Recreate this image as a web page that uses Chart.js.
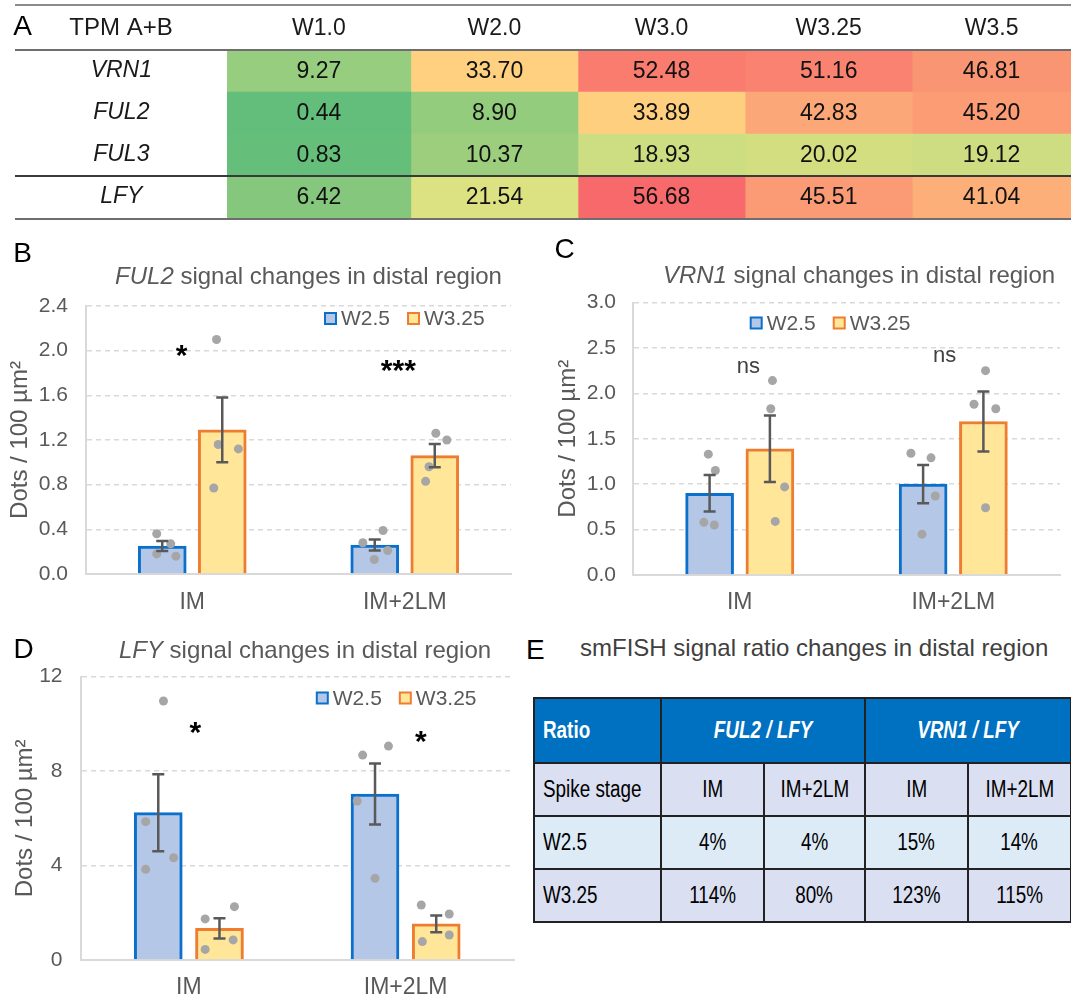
<!DOCTYPE html>
<html>
<head>
<meta charset="utf-8">
<script src="https://cdn.jsdelivr.net/npm/chart.js@4.4.1/dist/chart.umd.min.js"></script>
<style>
  body { margin: 0; background: #fff; }
  #fig { position: relative; width: 1071px; height: 1001px; overflow: hidden; font-family: "Liberation Sans", Arial, sans-serif; }
  canvas { position: absolute; }
  #cA { left: 0; top: 0; }
  #cB { left: 0; top: 220px; }
  #cC { left: 530px; top: 220px; }
  #cD { left: 0; top: 620px; }
  .lbl { position: absolute; white-space: nowrap; }
  #eLetter { left: 526px; top: 636px; font-size: 28px; line-height: 28px; color: #000; }
  #eTitle { left: 580px; top: 636px; font-size: 24px; line-height: 24px; color: #404040; }
  #tE { position: absolute; left: 533px; top: 697px; border-collapse: collapse; table-layout: fixed; width: 537px;
        font-family: "Liberation Sans", Arial, sans-serif; font-size: 23px; color: #000; }
  #tE td { border: 2px solid #222; text-align: center; padding: 0; white-space: nowrap; overflow: visible; }
  #tE td span { display: inline-block; transform: scaleX(0.82); }
  #tE td.first { text-align: left; padding-left: 8px; }
  #tE td.first span { transform-origin: left center; }
  #tE tr.hd td { background: #0070C0; color: #fff; font-weight: bold; height: 63px; }
  #tE tr.sub td { background: #DADFF1; height: 51px; }
  #tE tr.r1 td { background: #DDEBF7; height: 51px; }
  #tE tr.r2 td { background: #DADFF1; height: 51px; }
</style>
</head>
<body>
<div id="fig">
  <canvas id="cA" width="1071" height="222"></canvas>
  <canvas id="cB" width="530" height="400"></canvas>
  <canvas id="cC" width="541" height="400"></canvas>
  <canvas id="cD" width="520" height="381"></canvas>
  <div class="lbl" id="eLetter">E</div>
  <div class="lbl" id="eTitle">smFISH signal ratio changes in distal region</div>
  <table id="tE"></table>
</div>
<script>
// ---- A: TPM heat table ----
const stagesA = ['W1.0', 'W2.0', 'W3.0', 'W3.25', 'W3.5'];
const genesA = ['VRN1', 'FUL2', 'FUL3', 'LFY'];
const tpmVRN1 = [9.27, 33.70, 52.48, 51.16, 46.81];
const tpmFUL2 = [0.44, 8.90, 33.89, 42.83, 45.20];
const tpmFUL3 = [0.83, 10.37, 18.93, 20.02, 19.12];
const tpmLFY  = [6.42, 21.54, 56.68, 45.51, 41.04];

// ---- B, C, D: smFISH dots ----
const stageCats = ['IM', 'IM+2LM'];
const seriesNames = ['W2.5', 'W3.25'];

const ful2W25 = [0.25, 0.26];
const ful2W325 = [1.29, 1.06];
const ful2W25Se = [0.045, 0.05];
const ful2W325Se = [0.29, 0.105];
const ful2W25Pts = [[0.36, 0.27, 0.18, 0.16], [0.28, 0.39, 0.21, 0.13]];
const ful2W325Pts = [[2.10, 1.16, 1.12, 0.77], [1.26, 1.20, 0.96, 0.83]];
const ful2Sig = ['*', '***'];
const ful2SigY = [2.0, 1.86];

const vrn1W25 = [0.90, 1.00];
const vrn1W325 = [1.39, 1.69];
const vrn1W25Se = [0.20, 0.21];
const vrn1W325Se = [0.365, 0.33];
const vrn1W25Pts = [[1.33, 1.15, 0.58, 0.55], [1.34, 1.29, 0.87, 0.45]];
const vrn1W325Pts = [[2.14, 1.83, 0.97, 0.59], [2.25, 1.88, 1.83, 0.74]];
const vrn1Sig = ['ns', 'ns'];
const vrn1SigY = [2.29, 2.41];

const lfyW25 = [6.24, 7.03];
const lfyW325 = [1.34, 1.53];
const lfyW25Se = [1.63, 1.29];
const lfyW325Se = [0.43, 0.355];
const lfyW25Pts = [[10.97, 5.86, 4.33, 3.84], [9.06, 8.68, 6.73, 3.46]];
const lfyW325Pts = [[2.26, 1.74, 0.85, 0.45], [2.33, 1.95, 1.06, 0.78]];
const lfySig = ['*', '*'];
const lfySigY = [9.81, 9.46];

// horizontal scatter of the dots inside each bar (fraction of a category)
const ful2W25Jit = [[-0.026, 0.040, -0.026, 0.064], [-0.056, 0.039, 0.061, -0.002]];
const ful2W325Jit = [[-0.027, -0.019, 0.076, -0.040], [0.005, 0.057, -0.027, -0.043]];
const vrn1W25Jit = [[-0.006, 0.027, -0.027, 0.022], [-0.057, 0.037, 0.057, -0.005]];
const vrn1W325Jit = [[0.012, 0.004, 0.069, 0.025], [0.010, -0.044, 0.058, 0.010]];
const lfyW25Jit = [[0.024, -0.058, 0.071, -0.058], [0.062, -0.057, -0.082, 0]];
const lfyW325Jit = [[0.069, -0.066, 0.063, -0.066], [-0.069, 0.060, 0.060, -0.064]];

// ---- E: ratio table ----
const ratioGroups = ['FUL2 / LFY', 'VRN1 / LFY'];
const ratioRows = ['W2.5', 'W3.25'];
const ful2LfyW25 = [4, 4];
const ful2LfyW325 = [114, 80];
const vrn1LfyW25 = [15, 14];
const vrn1LfyW325 = [123, 115];

const FONT = '"Liberation Sans", Arial, sans-serif';
Chart.defaults.font.family = FONT;
Chart.defaults.animation = false;

// Excel style 3-colour scale (green - yellow - red)
const tpmRows = [tpmVRN1, tpmFUL2, tpmFUL3, tpmLFY];
const allTpm = tpmRows.flat().sort((a, b) => a - b);
const pIdx = (allTpm.length - 1) * 0.5;
const tLo = allTpm[0], tHi = allTpm[allTpm.length - 1];
const tMid = allTpm[Math.floor(pIdx)] + (allTpm[Math.ceil(pIdx)] - allTpm[Math.floor(pIdx)]) * (pIdx - Math.floor(pIdx));

function heatColor(v) {
    const g = [99, 190, 123], y = [255, 235, 132], r = [248, 105, 107];
    let a, b, t;
    if (v <= tMid) { a = g; b = y; t = (v - tLo) / (tMid - tLo); }
    else { a = y; b = r; t = (v - tMid) / (tHi - tMid); }
    const c = a.map((ch, i) => Math.round(ch + (b[i] - ch) * t));
    return `rgb(${c.join(',')})`;
}

const colEdges = [0, 1.1, 2.1, 3.1, 4.1, 5.05];

const heatText = {
    id: 'heatText',
    afterDatasetsDraw(chart) {
        const ctx = chart.ctx;
        ctx.save();
        ctx.font = '23px ' + FONT;
        ctx.fillStyle = '#111';
        ctx.textAlign = 'center';
        ctx.textBaseline = 'middle';
        chart.data.datasets.forEach((ds, di) => {
            chart.getDatasetMeta(di).data.forEach((el, i) => {
                const p = el.getCenterPoint();
                ctx.fillText(ds.tpm[i].toFixed(2), p.x, p.y + 1);
            });
        });
        ctx.restore();
    },
    afterDraw(chart) {
        const ctx = chart.ctx;
        const area = chart.chartArea;
        const ys = chart.scales.y;
        const split = (ys.getPixelForValue(2) + ys.getPixelForValue(3)) / 2;
        ctx.save();
        ctx.lineWidth = 2;
        [[5, '#8c8c8c'], [area.top, '#6e6e6e'], [split, '#3a3a3a'], [area.bottom + 1, '#6e6e6e']].forEach(([y, c]) => {
            ctx.strokeStyle = c;
            ctx.beginPath();
            ctx.moveTo(15, Math.round(y));
            ctx.lineTo(1071, Math.round(y));
            ctx.stroke();
        });
        ctx.fillStyle = '#000';
        ctx.textAlign = 'center';
        ctx.textBaseline = 'middle';
        ctx.font = '28px ' + FONT;
        ctx.fillText('A', 22.5, 27);
        ctx.fillStyle = '#1a1a1a';
        ctx.font = '24px ' + FONT;
        ctx.fillText('TPM A+B', 121, 28);
        ctx.restore();
    }
};

new Chart(document.getElementById('cA'), {
    type: 'bar',
    data: {
        labels: genesA,
        datasets: stagesA.map((s, c) => ({
            label: s,
            data: tpmRows.map(() => [colEdges[c], colEdges[c + 1]]),
            tpm: tpmRows.map(row => row[c]),
            backgroundColor: tpmRows.map(row => heatColor(row[c])),
            borderWidth: 0,
            grouped: false,
            barPercentage: 1,
            categoryPercentage: 1
        }))
    },
    options: {
        responsive: false,
        indexAxis: 'y',
        layout: { padding: { left: 0, right: 0, top: 0, bottom: 4 } },
        plugins: { legend: { display: false }, tooltip: { enabled: false } },
        scales: {
            x: {
                type: 'linear', position: 'top', min: 0, max: colEdges[colEdges.length - 1],
                grid: { display: false, drawTicks: false }, border: { display: false },
                afterBuildTicks: s => { s.ticks = stagesA.map((_, c) => ({ value: (colEdges[c] + colEdges[c + 1]) / 2 })); },
                ticks: { autoSkip: false, maxRotation: 0, padding: 8, color: '#1a1a1a', font: { size: 23 }, callback: (v, i) => stagesA[i] },
                afterFit: s => { s.height = 50; s.paddingLeft = 0; s.paddingRight = 0; }
            },
            y: {
                grid: { display: false, drawTicks: false }, border: { display: false },
                ticks: { crossAlign: 'center', padding: 75, color: '#1a1a1a', font: { size: 23, style: 'italic' } },
                afterFit: s => { s.width = 227; s.paddingTop = 0; s.paddingBottom = 0; }
            }
        }
    },
    plugins: [heatText]
});

// ---- bar + dots panels ----
function glyphBaseline(ctx, text, cy) {
    const m = ctx.measureText(text);
    return cy + (m.actualBoundingBoxAscent - m.actualBoundingBoxDescent) / 2;
}

const panelDecor = {
    id: 'panelDecor',
    afterDatasetsDraw(chart, args, o) {
        const ctx = chart.ctx;
        const ys = chart.scales.y;
        ctx.save();
        // error bars
        ctx.strokeStyle = '#595959';
        ctx.lineWidth = 2.5;
        chart.data.datasets.forEach((ds, di) => {
            if (!ds.se) return;
            chart.getDatasetMeta(di).data.forEach((el, i) => {
                const top = ys.getPixelForValue(ds.mean[i] + ds.se[i]);
                const bot = ys.getPixelForValue(ds.mean[i] - ds.se[i]);
                ctx.beginPath();
                ctx.moveTo(el.x, top); ctx.lineTo(el.x, bot);
                ctx.moveTo(el.x - 6, top); ctx.lineTo(el.x + 6, top);
                ctx.moveTo(el.x - 6, bot); ctx.lineTo(el.x + 6, bot);
                ctx.stroke();
            });
        });
        // significance marks
        const xs = chart.scales.x;
        o.sig.forEach((s, i) => {
            const star = s.indexOf('*') >= 0;
            ctx.font = star ? 'bold 30px ' + FONT : '22px ' + FONT;
            ctx.fillStyle = star ? '#000' : '#404040';
            ctx.textAlign = 'center';
            ctx.textBaseline = 'alphabetic';
            const x = xs.getPixelForValue(i) + o.sigDx[i] * (xs.getPixelForValue(1) - xs.getPixelForValue(0));
            ctx.fillText(s, x, glyphBaseline(ctx, s, ys.getPixelForValue(o.sigY[i])));
        });
        ctx.restore();
    },
    afterDraw(chart, args, o) {
        const ctx = chart.ctx;
        ctx.save();
        ctx.textBaseline = 'middle';
        // panel letter
        ctx.fillStyle = '#000';
        ctx.textAlign = 'center';
        ctx.font = '28px ' + FONT;
        ctx.fillText(o.letter, o.letterX, o.letterY);
        // title with italic gene name
        ctx.fillStyle = '#595959';
        ctx.textAlign = 'left';
        ctx.font = 'italic 24px ' + FONT;
        const w1 = ctx.measureText(o.gene).width;
        ctx.font = '24px ' + FONT;
        const rest = ' signal changes in distal region';
        const w2 = ctx.measureText(rest).width;
        let x = o.titleX - (w1 + w2) / 2;
        ctx.font = 'italic 24px ' + FONT;
        ctx.fillText(o.gene, x, o.titleY);
        ctx.font = '24px ' + FONT;
        ctx.fillText(rest, x + w1, o.titleY);
        // legend
        ctx.font = '21px ' + FONT;
        x = o.legX;
        chart.data.datasets.filter(ds => ds.se).forEach(ds => {
            ctx.fillStyle = ds.backgroundColor;
            ctx.fillRect(x, o.legY - 5.5, 11, 11);
            ctx.strokeStyle = ds.borderColor;
            ctx.lineWidth = 2;
            ctx.strokeRect(x, o.legY - 5.5, 11, 11);
            ctx.fillStyle = '#595959';
            ctx.fillText(ds.label, x + 16, o.legY + 1);
            x += 16 + ctx.measureText(ds.label).width + 18;
        });
        ctx.restore();
    }
};

function barPanel(id, p) {
    // both series sit on a numeric copy of the category axis: index +/- shift
    const shift = 0.1412;
    const barSet = (label, vals, se, s, fill, line) => ({
        label, mean: vals, se,
        xAxisID: 'xj',
        data: vals.map((v, ci) => ({ x: ci + s, y: v })),
        backgroundColor: fill, borderColor: line,
        borderWidth: 3, grouped: false, barThickness: 48, order: 1
    });
    const bars = [
        barSet(seriesNames[0], p.w25, p.w25Se, -shift, '#B4C7E7', '#0B70CC'),
        barSet(seriesNames[1], p.w325, p.w325Se, shift, '#FFE699', '#ED7D31')
    ];
    const dots = [[p.w25Pts, p.w25Jit, -shift], [p.w325Pts, p.w325Jit, shift]].map(([pts, jit, s]) => ({
        type: 'scatter',
        xAxisID: 'xj',
        label: 'dots',
        data: pts.flatMap((vals, ci) => vals.map((v, k) => ({ x: ci + s + jit[ci][k], y: v }))),
        pointRadius: 4.5,
        pointHoverRadius: 4.5,
        backgroundColor: '#A6A6A6',
        borderWidth: 0,
        order: 0
    }));

    return new Chart(document.getElementById(id), {
        type: 'bar',
        data: { labels: stageCats, datasets: [...bars, ...dots] },
        options: {
            responsive: false,
            layout: { padding: { left: 0, top: p.padTop, right: p.padRight, bottom: 0 } },
            plugins: {
                legend: { display: false },
                tooltip: { enabled: false },
                panelDecor: p.decor
            },
            scales: {
                x: {
                    type: 'category', offset: true,
                    grid: { display: false, drawTicks: false },
                    border: { color: '#D9D9D9', width: 2 },
                    ticks: { color: '#595959', font: { size: 23 }, padding: p.xPad },
                    afterFit: s => { s.height = p.xH; s.paddingLeft = 0; s.paddingRight = 0; }
                },
                xj: { type: 'linear', display: false, offset: false, min: -0.5, max: 1.5, grid: { offset: false } },
                y: {
                    min: 0, max: p.yMax,
                    ticks: { stepSize: p.yStep, color: '#595959', font: { size: 21 }, padding: p.yPad, callback: p.fmt },
                    grid: { color: '#D9D9D9', lineWidth: 1.5, drawTicks: false },
                    border: { color: '#D9D9D9', width: 2, dash: [5, 4] },
                    title: { display: true, text: 'Dots / 100 µm²', color: '#595959', font: { size: 24 }, padding: { top: p.tPad, bottom: 0 } },
                    afterFit: s => { s.width = p.yW; s.paddingTop = 0; s.paddingBottom = 0; }
                }
            }
        },
        plugins: [panelDecor]
    });
}

barPanel('cB', {
    w25: ful2W25, w325: ful2W325, w25Se: ful2W25Se, w325Se: ful2W325Se,
    w25Pts: ful2W25Pts, w325Pts: ful2W325Pts, w25Jit: ful2W25Jit, w325Jit: ful2W325Jit,
    yMax: 2.4, yStep: 0.4, fmt: v => v.toFixed(1),
    padTop: 86, padRight: 19, yW: 86, xH: 46, xPad: 15, yPad: 18, tPad: 6,
    decor: { letter: 'B', letterX: 22.7, letterY: 34.5, gene: 'FUL2', titleX: 308.5, titleY: 57,
             legX: 325, legY: 98.5, sig: ful2Sig, sigY: ful2SigY, sigDx: [-0.05, -0.03] }
});

barPanel('cC', {
    w25: vrn1W25, w325: vrn1W325, w25Se: vrn1W25Se, w325Se: vrn1W325Se,
    w25Pts: vrn1W25Pts, w325Pts: vrn1W325Pts, w25Jit: vrn1W25Jit, w325Jit: vrn1W325Jit,
    yMax: 3.0, yStep: 0.5, fmt: v => v.toFixed(1),
    padTop: 82.5, padRight: 11, yW: 103, xH: 45, xPad: 14, yPad: 17, tPad: 23.6,
    decor: { letter: 'C', letterX: 34.5, letterY: 30, gene: 'VRN1', titleX: 329, titleY: 56,
             legX: 220.7, legY: 103, sig: vrn1Sig, sigY: vrn1SigY, sigDx: [0.04, -0.04] }
});

barPanel('cD', {
    w25: lfyW25, w325: lfyW325, w25Se: lfyW25Se, w325Se: lfyW325Se,
    w25Pts: lfyW25Pts, w325Pts: lfyW325Pts, w25Jit: lfyW25Jit, w325Jit: lfyW325Jit,
    yMax: 12, yStep: 4, fmt: v => String(v),
    padTop: 56.7, padRight: 6, yW: 80.5, xH: 41, xPad: 14, yPad: 18, tPad: 11,
    decor: { letter: 'D', letterX: 23.7, letterY: 30, gene: 'LFY', titleX: 305, titleY: 31.7,
             legX: 316.8, legY: 78, sig: lfySig, sigY: lfySigY, sigDx: [0.03, 0.07] }
});

// ---- E: table built from the ratio arrays ----
function buildTable() {
    const t = document.getElementById('tE');
    const widths = [127, 103, 101, 103, 103];
    const cell = (txt, cls, span) => `<td${cls ? ` class="${cls}"` : ''}${span ? ` colspan="${span}"` : ''}><span>${txt}</span></td>`;
    let html = '<colgroup>' + widths.map(w => `<col style="width:${w}px">`).join('') + '</colgroup>';
    html += '<tr class="hd">' + cell('Ratio', 'first') + ratioGroups.map(g => cell(`<i>${g}</i>`, '', 2)).join('') + '</tr>';
    html += '<tr class="sub">' + cell('Spike stage', 'first') +
        ratioGroups.map(() => stageCats.map(s => cell(s)).join('')).join('') + '</tr>';
    const rows = [[ful2LfyW25, vrn1LfyW25], [ful2LfyW325, vrn1LfyW325]];
    rows.forEach((r, i) => {
        html += `<tr class="r${i + 1}">` + cell(ratioRows[i], 'first') +
            r.map(vals => vals.map(v => cell(v + '%')).join('')).join('') + '</tr>';
    });
    t.innerHTML = html;
}
buildTable();
</script>
</body>
</html>
